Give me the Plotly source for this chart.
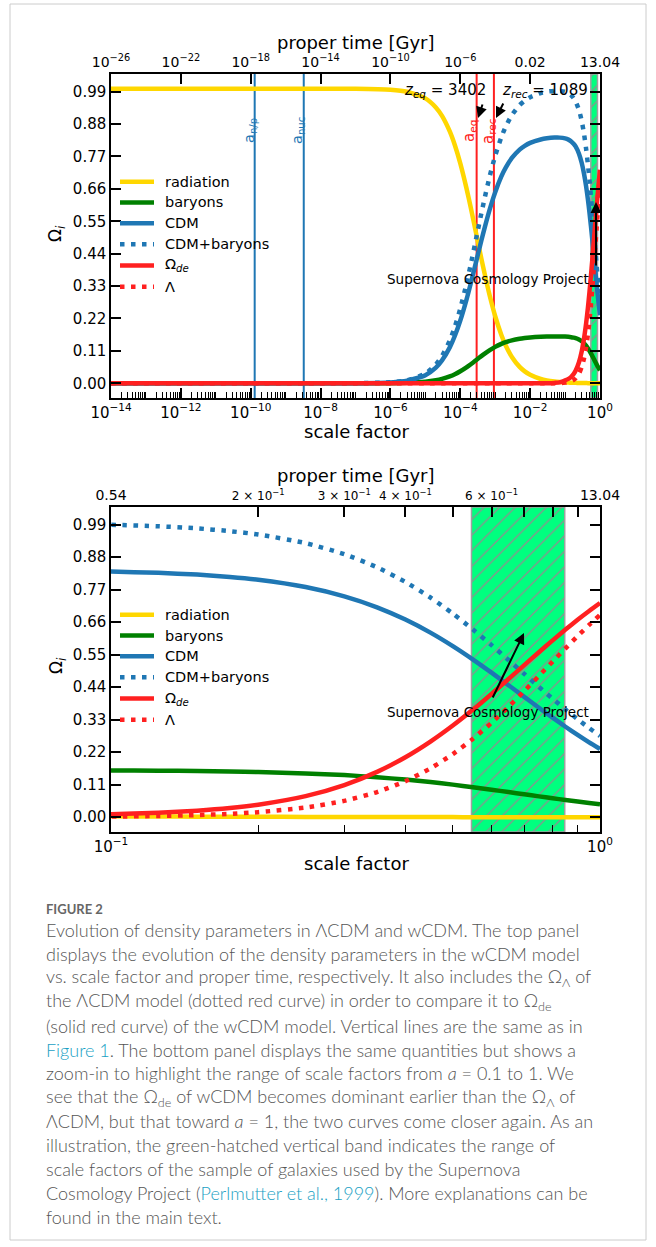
import plotly.graph_objects as go

W, H = 656, 1247
def px(x): return x / W
def py(y): return 1 - y / H

FONT = "DejaVu Sans"
BLUE = "#1f77b4"
RED = "#ff2020"
GOLD = "#FFD700"
GREEN = "#008000"
DOT = "4.5px,6.5px"

# ---------------- data ----------------
scale_factor = [1e-14, 1e-12, 1e-10, 1e-8, 1e-7, 1e-6, 3e-6, 1e-5, 2e-5, 3e-5,
                5e-5, 7e-5, 1e-4, 1.5e-4, 2e-4, 3e-4, 4e-4, 5e-4, 7e-4, 1e-3,
                1.5e-3, 2e-3, 3e-3, 5e-3, 7e-3, 1e-2, 2e-2, 3e-2, 5e-2, 7e-2,
                0.1, 0.125, 0.15, 0.175, 0.2, 0.25, 0.3, 0.35, 0.4, 0.45,
                0.5, 0.55, 0.6, 0.65, 0.7, 0.75, 0.8, 0.85, 0.9, 0.95, 1.0]
radiation = [1.0, 1.0, 1.0, 1.0, 0.9997, 0.9966, 0.9899, 0.9671, 0.9364, 0.9076,
             0.8549, 0.8080, 0.7465, 0.6626, 0.5956, 0.4954, 0.4240, 0.3707, 0.2961, 0.2275,
             0.1641, 0.1284, 0.0894, 0.0556, 0.0404, 0.0286, 0.0145, 0.0097, 0.0059, 0.0042,
             0.0029, 0.0023, 0.0019, 0.0016, 0.0014, 0.0011, 0.0009, 0.0007, 0.0006, 0.0005,
             0.0004, 0.0003, 0.0003, 0.0002, 0.0002, 0.0002, 0.0002, 0.0001, 0.0001, 0.0001, 0.0001]
baryons = [0.0, 0.0, 0.0, 0.00001, 0.00005, 0.0005, 0.0016, 0.0053, 0.0102, 0.0148,
           0.0232, 0.0307, 0.0406, 0.0540, 0.0647, 0.0807, 0.0922, 0.1007, 0.1126, 0.1236,
           0.1337, 0.1395, 0.1457, 0.1511, 0.1535, 0.1554, 0.1577, 0.1584, 0.1588, 0.1588,
           0.1584, 0.1576, 0.1565, 0.1549, 0.1531, 0.1484, 0.1425, 0.1353, 0.1274, 0.1190,
           0.1103, 0.1016, 0.0932, 0.0851, 0.0776, 0.0706, 0.0642, 0.0583, 0.0531, 0.0483, 0.0440]
cdm = [0.0, 0.0, 0.0, 0.00003, 0.0003, 0.0028, 0.0085, 0.0276, 0.0534, 0.0776,
       0.1219, 0.1613, 0.2129, 0.2834, 0.3397, 0.4239, 0.4838, 0.5286, 0.5913, 0.6489,
       0.7022, 0.7321, 0.7649, 0.7933, 0.8061, 0.8160, 0.8277, 0.8316, 0.8340, 0.8340,
       0.8314, 0.8272, 0.8212, 0.8134, 0.8039, 0.7793, 0.7478, 0.7106, 0.6690, 0.6247,
       0.5790, 0.5335, 0.4892, 0.4469, 0.4074, 0.3706, 0.3369, 0.3063, 0.2786, 0.2535, 0.2310]
cdm_baryons = [0.0, 0.0, 0.0, 0.00004, 0.00034, 0.0034, 0.0101, 0.0329, 0.0636, 0.0924,
               0.1451, 0.1920, 0.2535, 0.3374, 0.4044, 0.5046, 0.5760, 0.6293, 0.7039, 0.7725,
               0.8359, 0.8716, 0.9106, 0.9444, 0.9596, 0.9714, 0.9854, 0.9900, 0.9928, 0.9928,
               0.9898, 0.9848, 0.9777, 0.9683, 0.9570, 0.9278, 0.8903, 0.8459, 0.7964, 0.7437,
               0.6893, 0.6351, 0.5824, 0.5320, 0.4850, 0.4412, 0.4011, 0.3646, 0.3317, 0.3018, 0.2750]
omega_de = [0.0, 0.0, 0.0, 0.0, 0.0, 0.0, 0.0, 0.0, 0.0, 0.0,
            0.0, 0.0, 0.0, 0.0, 0.0, 0.0, 0.0, 0.0, 0.0, 0.0,
            0.0, 0.0, 0.0, 0.0, 0.0, 0.00002, 0.0001, 0.0003, 0.0013, 0.0030,
            0.0100, 0.0150, 0.0220, 0.0310, 0.0425, 0.0715, 0.1089, 0.1534, 0.2030, 0.2559,
            0.3103, 0.3645, 0.4173, 0.4677, 0.5149, 0.5586, 0.5987, 0.6352, 0.6683, 0.6981, 0.7250]
omega_lambda = [0.0, 0.0, 0.0, 0.0, 0.0, 0.0, 0.0, 0.0, 0.0, 0.0,
                0.0, 0.0, 0.0, 0.0, 0.0, 0.0, 0.0, 0.0, 0.0, 0.0,
                0.0, 0.0, 0.0, 0.0, 0.0, 0.0, 0.00001, 0.00006, 0.00027, 0.00074,
                0.0022, 0.0042, 0.0073, 0.0115, 0.0171, 0.0328, 0.0554, 0.0852, 0.1221, 0.1653,
                0.2136, 0.2656, 0.3195, 0.3738, 0.4271, 0.4784, 0.5268, 0.5717, 0.6131, 0.6508, 0.6850]

epoch_blue = [1.3e-10, 3.3e-9]
epoch_blue_labels = ["a<sub>n/p</sub>", "a<sub>nuc</sub>"]
epoch_red = [1 / 3403, 1 / 1090]
epoch_red_labels = ["a<sub>eq</sub>", "a<sub>rec</sub>"]
sn_band = [0.546, 0.847]

top_tick_a = [1e-14, 1e-12, 1e-10, 1e-8, 1e-6, 1e-4, 1e-2, 1.0]
top_tick_text = ["10<sup>−14</sup>", "10<sup>−12</sup>", "10<sup>−10</sup>", "10<sup>−8</sup>",
                 "10<sup>−6</sup>", "10<sup>−4</sup>", "10<sup>−2</sup>", "10<sup>0</sup>"]
top_time_text = ["10<sup>−26</sup>", "10<sup>−22</sup>", "10<sup>−18</sup>", "10<sup>−14</sup>",
                 "10<sup>−10</sup>", "10<sup>−6</sup>", "0.02", "13.04"]
zoom_tick_a = [0.1, 0.2, 0.3, 0.4, 0.5, 0.6, 0.7, 0.8, 0.9, 1.0]
sm = "<span style='font-size:12px'>"
zoom_time_text = ["0.54", sm + "2 × 10<sup>−1</sup></span>", sm + "3 × 10<sup>−1</sup></span>",
                  sm + "4 × 10<sup>−1</sup></span>", "", sm + "6 × 10<sup>−1</sup></span>",
                  "", "", "", "13.04"]
y_ticks = [0.0, 0.11, 0.22, 0.33, 0.44, 0.55, 0.66, 0.77, 0.88, 0.99]

series = [
    ("radiation", radiation, GOLD, "solid"),
    ("baryons", baryons, GREEN, "solid"),
    ("CDM", cdm, BLUE, "solid"),
    ("CDM+baryons", cdm_baryons, BLUE, DOT),
    ("Ω<sub><i>de</i></sub>", omega_de, RED, "solid"),
    ("Λ", omega_lambda, RED, DOT),
]

fig = go.Figure()

# Supernova band (hatched)
for xa, ya in (("x", "y"), ("x2", "y2")):
    fig.add_trace(go.Scatter(
        x=[sn_band[0], sn_band[1], sn_band[1], sn_band[0], sn_band[0]],
        y=[-0.05, -0.05, 1.05, 1.05, -0.05], mode="lines", fill="toself",
        line=dict(color="#a0a0a0", width=1.5),
        fillpattern=dict(shape="/", bgcolor="#00FF7F", fgcolor="#8f8f8f",
                         fgopacity=1, size=11, solidity=0.12, fillmode="replace"),
        xaxis=xa, yaxis=ya, showlegend=False, hoverinfo="skip"))

# vertical epoch lines (top panel)
for v in epoch_blue:
    fig.add_trace(go.Scatter(x=[v, v], y=[-0.05, 1.05], mode="lines",
                             line=dict(color=BLUE, width=2), xaxis="x", yaxis="y",
                             showlegend=False, hoverinfo="skip"))
for v in epoch_red:
    fig.add_trace(go.Scatter(x=[v, v], y=[-0.05, 1.05], mode="lines",
                             line=dict(color=RED, width=2), xaxis="x", yaxis="y",
                             showlegend=False, hoverinfo="skip"))

for xa, ya in (("x", "y"), ("x2", "y2")):
    for name, vals, col, dash in series:
        fig.add_trace(go.Scatter(x=scale_factor, y=vals, mode="lines", name=name,
                                 line=dict(color=col, width=4.5, dash=dash, shape="spline", smoothing=0.6),
                                 xaxis=xa, yaxis=ya, showlegend=False, hoverinfo="skip"))

# dummy traces so the top (time) axes get drawn
fig.add_trace(go.Scatter(x=[0.5], y=[-1], mode="markers", marker=dict(opacity=0),
                         xaxis="x3", yaxis="y", showlegend=False, hoverinfo="skip"))
fig.add_trace(go.Scatter(x=[0.5], y=[-1], mode="markers", marker=dict(opacity=0),
                         xaxis="x4", yaxis="y2", showlegend=False, hoverinfo="skip"))

minor_top = [m * 10.0 ** k for k in range(-14, 0) for m in range(1, 10)
             if not (m == 1 and k % 2 == 0)]
minor_zoom = [0.2, 0.3, 0.4, 0.5, 0.6, 0.7, 0.8, 0.9]

axis_common = dict(showline=True, linewidth=1.5, linecolor="black", ticks="inside",
                   ticklen=10, tickwidth=1.5, tickcolor="black", showgrid=False, zeroline=False,
                   automargin=False,
                   tickfont=dict(family=FONT, size=15, color="black"))
axis_top = {k: v for k, v in axis_common.items() if k != "tickfont"}
axis_top["tickfont"] = dict(family=FONT, size=14, color="black")
xdom = [px(111), px(600)]
ytop = [py(398), py(74)]
ybot = [py(832), py(507)]

fig.update_layout(
    width=W, height=H, margin=dict(l=0, r=0, t=0, b=0, autoexpand=False),
    paper_bgcolor="white", plot_bgcolor="white", showlegend=False,
    font=dict(family=FONT, color="black"),
    xaxis=dict(**axis_common, type="log", range=[-14, 0], domain=xdom, anchor="y",
               tickmode="array", tickvals=top_tick_a, ticktext=top_tick_text,
               minor=dict(tickmode="array", tickvals=minor_top, ticks="inside", ticklen=6,
                          tickwidth=1.2, tickcolor="black")),
    yaxis=dict(**axis_common, range=[-0.05, 1.05], domain=ytop, anchor="x", mirror="ticks",
               tickmode="array", tickvals=y_ticks, ticktext=[f"{v:.2f}" for v in y_ticks]),
    xaxis3=dict(**axis_top, type="log", range=[-14, 0], domain=xdom, anchor="y",
                overlaying="x", side="top",
                tickmode="array", tickvals=top_tick_a, ticktext=top_time_text),
    xaxis2=dict(**axis_common, type="log", range=[-1, 0], domain=xdom, anchor="y2",
                tickmode="array", tickvals=[0.1, 1.0],
                ticktext=["10<sup>−1</sup>", "10<sup>0</sup>"],
                minor=dict(tickmode="array", tickvals=minor_zoom, ticks="inside", ticklen=7,
                           tickwidth=1.2, tickcolor="black")),
    yaxis2=dict(**axis_common, range=[-0.05, 1.05], domain=ybot, anchor="x2", mirror="ticks",
                tickmode="array", tickvals=y_ticks, ticktext=[f"{v:.2f}" for v in y_ticks]),
    xaxis4=dict(**axis_top, type="log", range=[-1, 0], domain=xdom, anchor="y2",
                overlaying="x2", side="top",
                tickmode="array", tickvals=zoom_tick_a, ticktext=zoom_time_text),
)

ann = []
shapes = []

def text(x, y, t, size=15, color="black", angle=0, xanchor="center", family=FONT):
    ann.append(dict(x=px(x), y=py(y), xref="paper", yref="paper", text=t, showarrow=False,
                    font=dict(family=family, size=size, color=color), textangle=angle,
                    xanchor=xanchor, yanchor="middle"))

def arrow(hx, hy, tx, ty):
    ann.append(dict(x=px(hx), y=py(hy), xref="paper", yref="paper", text="", showarrow=True,
                    ax=tx - hx, ay=ty - hy, axref="pixel", ayref="pixel", arrowhead=2,
                    arrowsize=1.1, arrowwidth=2, arrowcolor="black", standoff=0, startstandoff=0))

# axis titles
for off in (0, 432):
    text(356, 43 + off, "proper time [Gyr]", size=18)
    text(356, 431 + off, "scale factor", size=18)
    text(57, 233 + off, "Ω<sub><i>i</i></sub>", size=17, angle=-90)

# epoch labels
text(250, 131, epoch_blue_labels[0], size=14.5, color=BLUE, angle=-90)
text(298, 131, epoch_blue_labels[1], size=14.5, color=BLUE, angle=-90)
text(470, 131, epoch_red_labels[0], size=15, color=RED, angle=-90)
text(489, 131, epoch_red_labels[1], size=15, color=RED, angle=-90)
text(445, 91, "<i>z</i><sub><i>eq</i></sub> = 3402", size=15)
text(545, 91, "<i>z</i><sub><i>rec</i></sub> = 1089", size=15)
arrow(478, 118, 483, 103)
arrow(496, 118, 504, 102)

# supernova annotations
text(488, 279, "Supernova Cosmology Project", size=13.5)
arrow(596, 202, 596, 267)
text(488, 712, "Supernova Cosmology Project", size=13.5)
arrow(524, 633, 492, 699)

# manual legends
rows = [181.7, 202.5, 223.3, 244.3, 265.5, 286.7]
for off in (0, 433):
    for (name, vals, col, dash), ry in zip(series, rows):
        shapes.append(dict(type="line", xref="paper", yref="paper",
                           x0=px(120), x1=px(154), y0=py(ry + off), y1=py(ry + off),
                           line=dict(color=col, width=4.5, dash=dash)))
        text(163, ry + off, name, size=14.5, xanchor="left")

# caption
CAP = "Lato"
CCOL = "#555555"
LINK = "#1a9fc4"
ann.append(dict(x=px(44), y=py(909), xref="paper", yref="paper", text="FIGURE 2",
                showarrow=False, xanchor="left", yanchor="middle",
                font=dict(family=CAP, size=13, color="#666666", weight="bold")))
cap_lines = [
    "Evolution of density parameters in ΛCDM and wCDM. The top panel",
    "displays the evolution of the density parameters in the wCDM model",
    "vs. scale factor and proper time, respectively. It also includes the Ω<sub>Λ</sub> of",
    "the ΛCDM model (dotted red curve) in order to compare it to Ω<sub>de</sub>",
    "(solid red curve) of the wCDM model. Vertical lines are the same as in",
    f"<span style='color:{LINK}'>Figure 1</span>. The bottom panel displays the same quantities but shows a",
    "zoom-in to highlight the range of scale factors from <i>a</i> = 0.1 to 1. We",
    "see that the Ω<sub>de</sub> of wCDM becomes dominant earlier than the Ω<sub>Λ</sub> of",
    "ΛCDM, but that toward <i>a</i> = 1, the two curves come closer again. As an",
    "illustration, the green-hatched vertical band indicates the range of",
    "scale factors of the sample of galaxies used by the Supernova",
    f"Cosmology Project (<span style='color:{LINK}'>Perlmutter et al., 1999</span>). More explanations can be",
    "found in the main text.",
]
for i, line in enumerate(cap_lines):
    ann.append(dict(x=px(44), y=py(930 + 23.9 * i), xref="paper", yref="paper", text=line,
                    showarrow=False, xanchor="left", yanchor="middle",
                    font=dict(family=CAP, size=18, color=CCOL, weight=300)))

# outer border
shapes.append(dict(type="rect", xref="paper", yref="paper", x0=px(10), x1=px(646),
                   y0=py(1240), y1=py(4), line=dict(color="#cccccc", width=1)))

fig.update_layout(annotations=ann, shapes=shapes)
fig.write_html("out.html")
